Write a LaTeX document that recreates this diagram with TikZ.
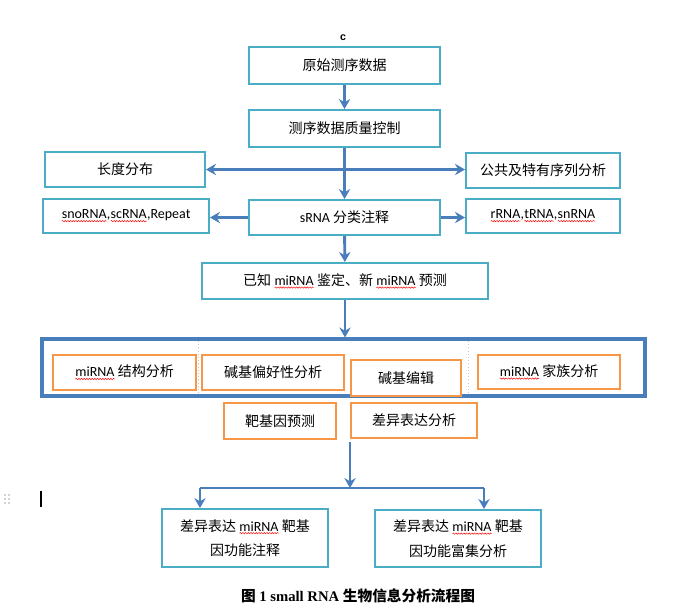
\documentclass[tikz,border=0pt]{standalone}
\usepackage{fontspec}
\setmainfont{Liberation Serif}
\newfontfamily\cjk{Noto Sans CJK SC}
\newfontfamily\lat{Carlito}
\newfontfamily\sansf{Liberation Sans}
\usetikzlibrary{arrows.meta,decorations.pathmorphing}
\newcommand\zh{\cjk\fontsize{10.5}{14}\selectfont}
\newcommand\zhtwo{\cjk\fontsize{10.5}{18.5}\selectfont}
\newcommand\rw[1]{\tikz[baseline=(w.base),x=1pt,y=1pt]{\node[draw=none,fill=none,minimum width=0pt,minimum height=0pt,text width=,align=left,inner sep=0pt,outer sep=0pt,font=\lat\fontsize{10.5}{14}\selectfont](w){#1};\draw[red,line width=0.35pt,decorate,decoration={snake,amplitude=0.5pt,segment length=2pt}]([yshift=-1.6pt]w.base west)--([yshift=-1.6pt]w.base east);}}
\definecolor{tealc}{HTML}{4BACC6}
\definecolor{orangec}{HTML}{F79646}
\definecolor{bluec}{HTML}{4A7EBB}
\begin{document}
\begin{tikzpicture}[x=0.75pt,y=-0.75pt,
  wh/.style 2 args={minimum width=#1*0.75pt, minimum height=#2*0.75pt},
  tbox/.style={draw=tealc, line width=1.5pt, fill=white, inner sep=0pt, font=\zh},
  obox/.style={draw=orangec, line width=1.5pt, fill=white, inner sep=0pt, font=\zh},
  arr/.style={draw=bluec, line width=2.2pt, -{Stealth[length=7.5pt,width=8.5pt,inset=2.5pt]}},
  darr/.style={draw=bluec, line width=2.2pt, {Stealth[length=7.5pt,width=8.5pt,inset=2.5pt]}-{Stealth[length=7.5pt,width=8.5pt,inset=2.5pt]}},
  plain/.style={draw=bluec, line width=2.2pt}]
\useasboundingbox (0,0) rectangle (680,612);

\node[font=\sansf\bfseries\fontsize{8}{9}\selectfont] (c) at (343,38) {c};

\node[tbox, wh={191}{37}] (n1) at (344.5,65.5) {原始测序数据};
\node[tbox, wh={191}{37}] (n2) at (344.5,128.5) {测序数据质量控制};
\node[tbox, wh={160}{35}] (len) at (125,169.5) {长度分布};
\node[tbox, wh={154}{35}] (pub) at (543,170.5) {公共及特有序列分析};
\node[tbox, wh={166}{34}] (sno) at (126,216) {\lat\rw{snoRNA},\rw{scRNA},Repeat};
\node[tbox, wh={191}{35}] (srna) at (344.5,217.5) {{\lat sRNA} 分类注释};
\node[tbox, wh={154}{34}] (rrna) at (543,216) {\lat\rw{rRNA},\rw{tRNA},\rw{snRNA}};
\node[tbox, wh={286}{36}] (known) at (345,281) {已知 \rw{miRNA} 鉴定、新 \rw{miRNA} 预测};

\node[draw=bluec, line width=2.3pt, inner sep=0pt, wh={603}{57}] (big) at (343.5,367.5) {};
\draw[gray!45, dotted] (198,341) -- (198,394);
\draw[gray!45, dotted] (468,341) -- (468,394);

\node[obox, wh={143}{35}] (o1) at (124.5,372.5) {\rw{miRNA} 结构分析};
\node[obox, wh={142}{35}] (o2) at (273,372.5) {碱基偏好性分析};
\node[obox, wh={110}{36}] (o3) at (406,378) {碱基编辑};
\node[obox, wh={142}{34}] (o4) at (549,372) {\rw{miRNA} 家族分析};
\node[obox, wh={112}{36}] (o5) at (280,421) {靶基因预测};
\node[obox, wh={126}{35}] (o6) at (414,420.5) {差异表达分析};

\node[tbox, font=\zhtwo, wh={166}{58}, align=center] (b1) at (245,538) {差异表达 \rw{miRNA} 靶基\\因功能注释};
\node[tbox, font=\zhtwo, wh={166}{57}, align=center] (b2) at (458,538.5) {差异表达 \rw{miRNA} 靶基\\因功能富集分析};

\node (cap) at (358,596) {\fontsize{11}{13}\selectfont{\cjk\bfseries 图} {\bfseries 1 small RNA} {\cjk\bfseries 生物信息分析流程图}};

% connectors
\draw[arr] (n1) -- (n2);
\draw[darr] (len.east) -- (len.east -| pub.west);
\draw[arr] (n2) -- (srna);
\draw[arr] (srna.west) -- (srna.west -| sno.east);
\draw[arr] (srna.east) -- (srna.east -| rrna.west);
\draw[arr] (srna) -- (known);
\draw[arr] (known.south) -- (known.south |- big.north);

\coordinate (s) at (350,442);
\coordinate (j) at (350,488);
\coordinate (jl) at (200,488);
\coordinate (jr) at (484,488);
\draw[arr] (s) -- (j);
\draw[plain] (jl) -- (jr);
\draw[arr] (jl) -- (jl |- b1.north);
\draw[arr] (jr) -- (jr |- b2.north);

% editor artefacts
\foreach \yy in {495,499,503} {
  \fill[gray!70] (5,\yy) circle (0.9);
  \fill[gray!70] (9,\yy) circle (0.9);
}
\draw[black, line width=0.9pt] (41,491) -- (41,507);
\end{tikzpicture}
\end{document}
